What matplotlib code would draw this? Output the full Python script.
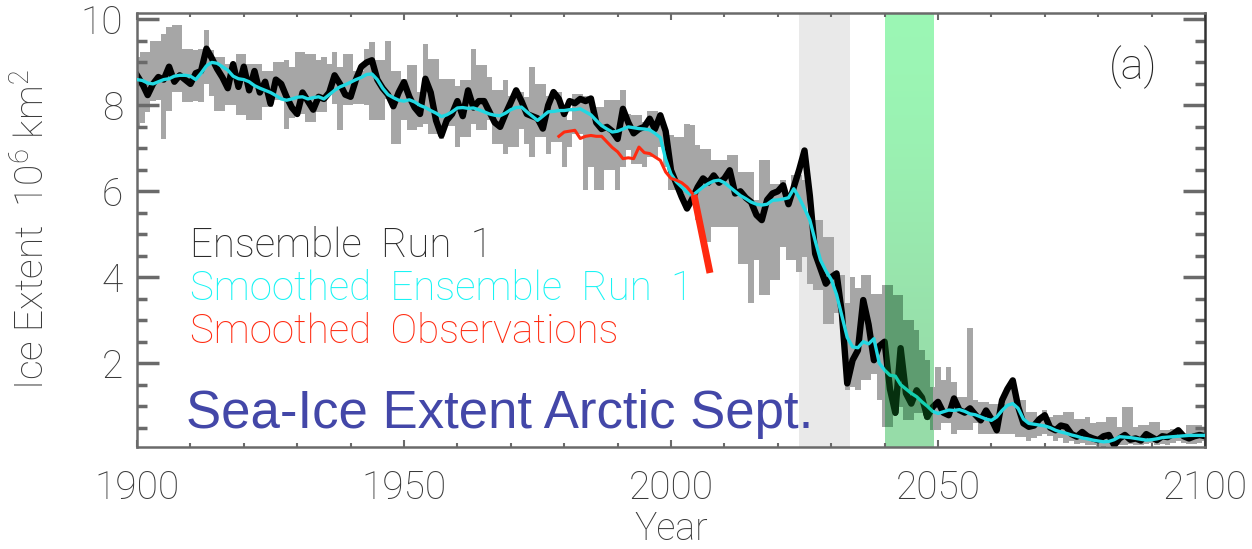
import numpy as np
import matplotlib.pyplot as plt
from matplotlib.patches import Rectangle
from matplotlib.ticker import MultipleLocator

W, H = 1252, 549

years = np.arange(1900, 2101)

# ensemble spread (annual min / max), 10^6 km^2
spread_hi = [
    9.12, 9.24, 9.24, 9.50, 9.50, 9.67, 9.82, 9.88, 9.88, 9.32,
    9.32, 9.30, 9.32, 9.76, 9.28, 9.12, 9.12, 8.97, 8.97, 9.20,
    9.20, 8.97, 8.97, 8.97, 8.81, 8.81, 9.01, 9.01, 9.05, 8.90,
    9.24, 9.24, 9.20, 9.20, 9.06, 9.12, 8.97, 9.24, 8.89, 9.20,
    9.20, 8.81, 8.81, 9.32, 9.47, 9.05, 9.05, 9.51, 8.81, 8.81,
    8.62, 8.93, 8.93, 8.31, 9.43, 9.08, 9.08, 8.62, 8.62, 8.62,
    8.46, 8.58, 8.58, 9.32, 8.93, 8.93, 8.66, 8.35, 8.35, 8.58,
    8.23, 8.23, 8.31, 8.19, 8.90, 8.50, 8.50, 8.23, 8.31, 8.31,
    7.85, 7.65, 8.27, 8.27, 8.23, 8.19, 7.96, 7.96, 8.12, 8.12,
    8.12, 8.35, 7.81, 7.77, 7.77, 7.61, 7.88, 7.88, 7.73, 7.38,
    7.30, 7.26, 7.26, 7.57, 7.54, 7.07, 6.99, 6.99, 6.72, 6.72,
    6.72, 6.84, 6.84, 6.45, 6.45, 6.45, 5.79, 6.72, 6.72, 6.18,
    6.18, 6.26, 5.95, 6.37, 6.37, 6.26, 5.41, 5.33, 5.33, 4.94,
    4.94, 4.05, 4.05, 3.39, 4.01, 3.74, 4.05, 4.05, 3.62, 3.62,
    3.81, 3.81, 3.58, 3.58, 3.00, 3.00, 2.77, 2.30, 2.07, 1.45,
    1.92, 1.61, 1.92, 1.57, 1.22, 1.22, 2.81, 1.14, 1.10, 1.10,
    1.06, 1.06, 1.06, 1.45, 1.45, 1.14, 1.14, 0.87, 0.87, 0.75,
    0.90, 0.75, 0.79, 0.79, 0.87, 0.87, 0.71, 0.71, 0.75, 0.60,
    0.64, 0.64, 0.75, 0.75, 0.52, 0.99, 0.99, 0.52, 0.56, 0.56,
    0.64, 0.64, 0.44, 0.44, 0.48, 0.48, 0.36, 0.56, 0.56, 0.56,
    0.50,
]
spread_lo = [
    7.50, 7.60, 7.85, 8.10, 8.12, 7.22, 7.88, 8.30, 8.30, 8.08,
    8.08, 8.10, 8.08, 8.50, 8.23, 7.88, 7.88, 8.00, 8.00, 7.77,
    7.77, 7.65, 7.65, 7.65, 7.96, 7.96, 8.12, 8.12, 7.46, 7.70,
    7.81, 7.81, 7.61, 7.61, 7.84, 7.85, 8.27, 8.04, 7.42, 8.00,
    8.00, 8.04, 8.04, 8.00, 7.65, 7.65, 7.65, 8.15, 7.11, 7.11,
    7.65, 7.42, 7.42, 7.50, 7.57, 7.34, 7.34, 7.22, 7.53, 7.53,
    7.03, 7.26, 7.26, 7.57, 7.42, 7.42, 7.65, 7.11, 7.11, 6.88,
    7.03, 7.03, 7.46, 7.11, 6.80, 7.26, 7.26, 6.88, 7.15, 7.15,
    6.57, 7.03, 7.34, 7.34, 6.02, 6.57, 6.02, 6.02, 6.49, 6.49,
    6.02, 6.57, 6.96, 6.64, 6.64, 6.57, 6.80, 6.80, 7.03, 6.57,
    6.02, 6.02, 5.95, 5.64, 5.71, 5.33, 4.82, 4.82, 5.17, 5.17,
    5.17, 5.17, 5.17, 4.32, 4.32, 3.39, 4.40, 3.58, 3.58, 3.93,
    3.93, 4.71, 4.40, 4.40, 4.12, 4.47, 3.85, 3.70, 3.70, 2.92,
    2.92, 3.16, 3.16, 1.37, 1.45, 1.37, 1.61, 1.61, 1.76, 1.14,
    0.52, 0.52, 0.98, 0.98, 0.67, 0.67, 0.83, 0.83, 0.67, 0.44,
    0.44, 0.60, 0.60, 0.36, 0.44, 0.44, 0.44, 0.60, 0.36, 0.36,
    0.36, 0.36, 0.36, 0.36, 0.36, 0.29, 0.29, 0.20, 0.25, 0.30,
    0.35, 0.30, 0.20, 0.25, 0.15, 0.20, 0.12, 0.15, 0.10, 0.10,
    0.08, 0.05, 0.08, 0.03, 0.10, 0.10, 0.12, 0.10, 0.10, 0.12,
    0.15, 0.10, 0.12, 0.10, 0.15, 0.20, 0.15, 0.12, 0.12, 0.15,
    0.20,
]

# ensemble run 1, annual
run1 = [
    8.70, 8.50, 8.24, 8.50, 8.66, 8.60, 8.90, 8.55, 8.70, 8.60,
    8.50, 8.75, 8.80, 9.32, 9.10, 8.85, 8.65, 8.40, 8.96, 8.43,
    8.90, 8.35, 8.80, 8.30, 8.55, 8.04, 8.60, 8.50, 8.20, 7.95,
    7.80, 8.30, 8.10, 7.90, 8.20, 8.15, 8.30, 8.70, 8.50, 8.25,
    8.20, 8.60, 8.90, 9.00, 9.05, 8.60, 8.40, 8.25, 7.98, 8.30,
    8.54, 8.20, 7.95, 7.80, 8.62, 8.30, 7.65, 7.30, 7.65, 7.80,
    8.10, 7.75, 8.35, 7.95, 8.10, 8.10, 7.85, 7.60, 7.50, 7.80,
    8.07, 8.35, 8.10, 7.80, 7.75, 7.70, 7.46, 8.00, 8.31, 8.15,
    7.80, 8.10, 8.05, 8.15, 8.10, 8.16, 7.60, 7.45, 7.50, 7.40,
    7.22, 7.92, 7.60, 7.35, 7.45, 7.50, 7.69, 7.45, 7.77, 7.40,
    6.49, 6.18, 5.87, 5.60, 5.83, 6.10, 6.30, 6.20, 6.37, 6.20,
    6.30, 6.49, 5.95, 6.00, 5.85, 5.75, 5.45, 5.33, 5.80, 5.95,
    6.00, 6.14, 5.70, 6.10, 6.50, 6.95, 5.90, 4.55, 4.20, 3.85,
    4.00, 4.09, 3.16, 1.53, 2.07, 2.30, 3.47, 2.90, 2.07, 2.40,
    2.50, 1.40, 0.85, 2.35, 1.30, 1.06, 1.37, 1.20, 0.75, 0.98,
    1.10, 0.85, 0.79, 1.18, 0.91, 0.85, 0.95, 0.80, 0.67, 0.90,
    0.70, 0.44, 1.14, 1.40, 1.60, 0.99, 0.60, 0.52, 0.55, 0.70,
    0.79, 0.50, 0.44, 0.55, 0.52, 0.35, 0.29, 0.40, 0.30, 0.25,
    0.21, 0.30, 0.33, 0.09, 0.25, 0.33, 0.22, 0.25, 0.20, 0.35,
    0.28, 0.21, 0.30, 0.28, 0.35, 0.44, 0.30, 0.25, 0.30, 0.33,
    0.30,
]

# smoothed run 1
run1_smooth = [
    8.60, 8.58, 8.52, 8.50, 8.55, 8.60, 8.62, 8.68, 8.70, 8.70,
    8.68, 8.60, 8.75, 8.92, 9.00, 8.98, 8.90, 8.82, 8.68, 8.62,
    8.60, 8.55, 8.46, 8.40, 8.35, 8.30, 8.23, 8.15, 8.12, 8.15,
    8.19, 8.20, 8.15, 8.18, 8.20, 8.15, 8.25, 8.35, 8.43, 8.48,
    8.54, 8.60, 8.65, 8.72, 8.73, 8.60, 8.40, 8.25, 8.18, 8.12,
    8.10, 8.13, 8.08, 8.00, 7.95, 7.88, 7.82, 7.74, 7.78, 7.85,
    7.94, 7.95, 7.93, 7.94, 7.90, 7.85, 7.80, 7.77, 7.76, 7.82,
    7.90, 7.95, 7.96, 7.85, 7.75, 7.65, 7.75, 7.85, 7.86, 7.88,
    7.88, 7.90, 7.90, 7.92, 7.85, 7.78, 7.65, 7.53, 7.45, 7.38,
    7.40, 7.45, 7.50, 7.48, 7.46, 7.45, 7.43, 7.35, 7.25, 6.75,
    6.40, 6.22, 6.10, 5.98, 5.90, 6.00, 6.10, 6.18, 6.24, 6.26,
    6.20, 6.10, 6.00, 5.90, 5.83, 5.75, 5.70, 5.68, 5.70, 5.79,
    5.80, 5.82, 5.85, 6.06, 5.85, 5.60, 5.33, 4.85, 4.40, 4.15,
    3.95, 3.60, 3.10, 2.60, 2.38, 2.36, 2.50, 2.45, 2.57, 2.00,
    1.84, 1.72, 1.70, 1.50, 1.40, 1.30, 1.22, 1.10, 1.00, 0.88,
    0.83, 0.87, 0.91, 0.90, 0.92, 0.88, 0.82, 0.80, 0.75, 0.70,
    0.67, 0.75, 0.90, 1.02, 1.06, 0.95, 0.70, 0.60, 0.58, 0.56,
    0.54, 0.50, 0.44, 0.40, 0.37, 0.33, 0.30, 0.26, 0.24, 0.21,
    0.19, 0.17, 0.18, 0.22, 0.29, 0.28, 0.27, 0.25, 0.23, 0.21,
    0.22, 0.24, 0.27, 0.28, 0.29, 0.30, 0.31, 0.32, 0.32, 0.32,
    0.32,
]

# smoothed observations
obs_years = np.arange(1979, 2005)
obs_smooth = [
    7.28, 7.38, 7.40, 7.42, 7.23, 7.28, 7.30, 7.28, 7.28, 7.15,
    7.02, 6.92, 6.76, 6.78, 6.76, 7.03, 6.90, 6.88, 6.80, 6.72,
    6.45, 6.30, 6.26, 6.20, 6.10, 5.95,
]
obs_recent_years = [2004.3, 2007.3]
obs_recent = [5.92, 4.10]

grey_period = (2024, 2033.5)
green_period = (2040, 2049)

ymin, ymax = 0.05, 10.15
axis_col = '#6a6a6a'
label_col = '#3a3a3a'

plt.rcParams['font.family'] = ['Roboto', 'DejaVu Sans']
plt.rcParams['font.weight'] = 'light'
plt.rcParams['axes.labelweight'] = 'light'
plt.rcParams['mathtext.fontset'] = 'custom'
plt.rcParams['mathtext.rm'] = 'Roboto:light'

fig = plt.figure(figsize=(W / 100, H / 100), dpi=100)
ax = fig.add_axes([137 / W, (H - 447) / H, (1205 - 137) / W, (447 - 13) / H])

lo = np.array(spread_lo)
hi = np.array(spread_hi)

ax.axvspan(*grey_period, color='#e9e9e9', lw=0, zorder=0)

# green band with a faint vertical gradient
grad = np.array([[[0.61, 0.97, 0.71]], [[0.59, 0.86, 0.66]]])
ax.imshow(grad, extent=[green_period[0], green_period[1], ymin, ymax],
          aspect='auto', interpolation='bicubic', zorder=0.5)

ax.bar(years, hi - lo, bottom=lo, width=1.0, color='#a6a6a6', lw=0, zorder=1)
ax.plot(years, run1, color='black', lw=4.6, solid_joinstyle='round', zorder=2)
ax.plot(years, run1_smooth, color='#22d8e2', lw=2.4, zorder=3)
ax.plot(obs_years, obs_smooth, color='#ff2a10', lw=2.2, zorder=4)
ax.plot(obs_recent_years, obs_recent, color='#ff2a10', lw=5.0,
        solid_capstyle='butt', zorder=4)

# inside the green band everything is tinted (multiplied) by the green
clip = Rectangle((green_period[0], ymin), green_period[1] - green_period[0],
                 ymax - ymin, transform=ax.transData)
tint_bars = ax.bar(years, hi - lo, bottom=lo, width=1.0, color='#5e9c70',
                   lw=0, zorder=5)
for p in tint_bars:
    p.set_clip_path(clip)
l1, = ax.plot(years, run1, color='#06300f', lw=4.6, solid_joinstyle='round',
              zorder=6)
l2, = ax.plot(years, run1_smooth, color='#14cfb0', lw=2.4, zorder=7)
l1.set_clip_path(clip)
l2.set_clip_path(clip)

ax.set_xlim(1900, 2100)
ax.set_ylim(ymin, ymax)
ax.xaxis.set_major_locator(MultipleLocator(50))
ax.xaxis.set_minor_locator(MultipleLocator(10))
ax.set_yticks([2, 4, 6, 8, 10])
ax.yaxis.set_minor_locator(MultipleLocator(0.5))

ax.tick_params(axis='both', which='both', direction='in', top=True,
               right=True, color=axis_col, labelcolor=label_col,
               labelsize=28)
ax.tick_params(axis='y', which='major', length=16, width=2.5, pad=10)
ax.tick_params(axis='y', which='minor', length=7, width=2.5)
ax.tick_params(axis='x', which='major', length=5, width=1.5, pad=16)
ax.tick_params(axis='x', which='minor', length=3, width=1.5)
for s in ax.spines.values():
    s.set_color(axis_col)
    s.set_linewidth(1.8)
ax.spines['right'].set_color('#333333')

ax.set_xlabel('Year', fontsize=27, color=label_col, labelpad=3)
ax.set_ylabel(r'Ice Extent  10$^{\mathregular{6}}$ km$^{\mathregular{2}}$',
              fontsize=28, color=label_col, labelpad=20)

fig.text(190 / W, 1 - 257 / H, 'Ensemble  Run  1', fontsize=29,
         color='#2a2a2a', va='baseline')
fig.text(190 / W, 1 - 300 / H, 'Smoothed  Ensemble  Run  1', fontsize=29,
         color='#18f4f4', va='baseline')
fig.text(190 / W, 1 - 343 / H, 'Smoothed  Observations', fontsize=29,
         color='#ff2a10', va='baseline')
fig.text(186 / W, 1 - 428 / H, 'Sea-Ice Extent Arctic Sept.', fontsize=38,
         color='#4347a8', va='baseline', family=['Liberation Sans'],
         weight='normal')
fig.text(1133 / W, 1 - 67 / H, '(a)', fontsize=31, color='#222222',
         ha='center', va='center')

fig.savefig('out.png', dpi=100)
